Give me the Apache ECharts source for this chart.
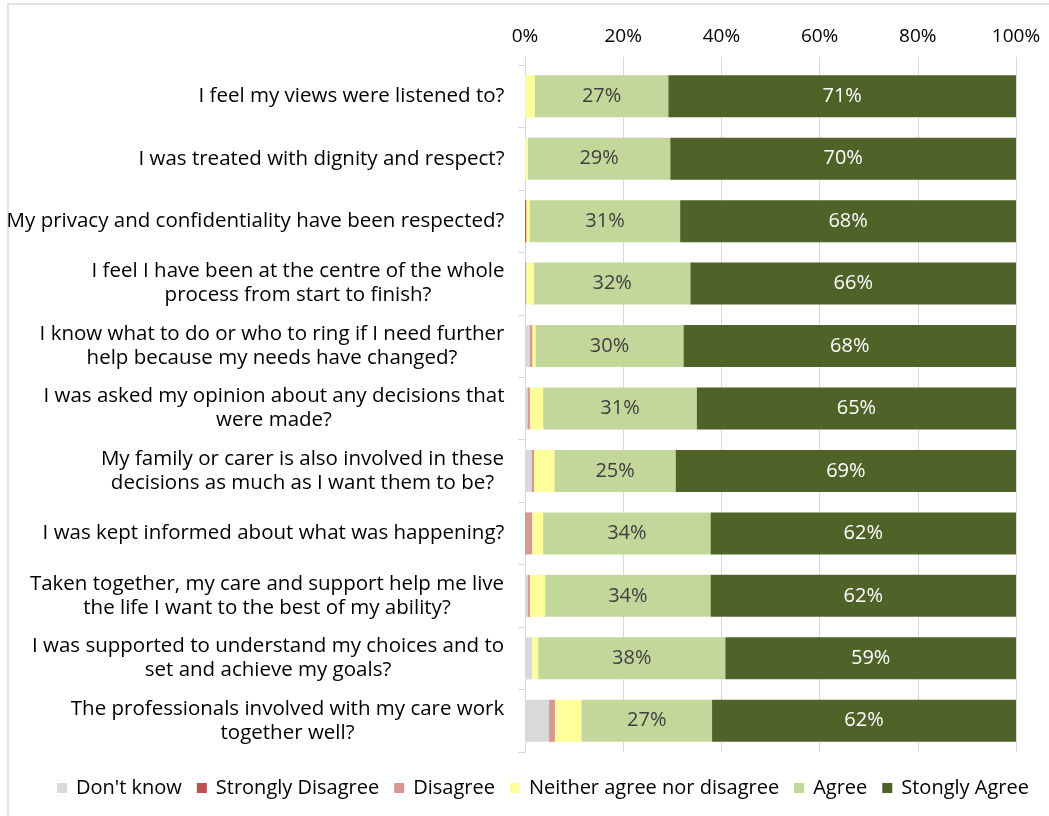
<!DOCTYPE html>
<html>
<head>
<meta charset="utf-8">
<script src="https://cdn.jsdelivr.net/npm/echarts@6/dist/echarts.min.js"></script>
<style>
html,body{margin:0;padding:0;background:#fff;}
#chart{width:1049px;height:816px;}
</style>
</head>
<body>
<div id="chart"></div>
<script>
const categories = [
  "I feel my views were listened to?",
  "I was treated with dignity and respect?",
  "My privacy and confidentiality have been respected?",
  "I feel I have been at the centre of the whole\nprocess from start to finish?",
  "I know what to do or who to ring if I need further\nhelp because my needs have changed?",
  "I was asked my opinion about any decisions that\nwere made?",
  "My family or carer is also involved in these\ndecisions as much as I want them to be?",
  "I was kept informed about what was happening?",
  "Taken together, my care and support help me live\nthe life I want to the best of my ability?",
  "I was supported to understand my choices and to\nset and achieve my goals?",
  "The professionals involved with my care work\ntogether well?"
];
const seriesNames = ["Don't know", "Strongly Disagree", "Disagree", "Neither agree nor disagree", "Agree", "Stongly Agree"];
const dontKnow         = [0,   0,   0,   0,   1.0, 0.55, 1.35, 0,   0.55, 1.5, 4.9];
const stronglyDisagree = [0,   0,   0.3, 0,   0,   0,    0,    0,   0,    0,   0];
const disagree         = [0,   0,   0,   0.3, 0.55,0.45, 0.5,  1.5, 0.45, 0,   1.2];
const neither          = [2.0, 0.6, 0.7, 1.5, 0.6, 2.7,  4.15, 2.2, 3.1,  1.2, 5.4];
const agree            = [27.2,29.0,30.6,31.9,30.15,31.3,24.7, 34.1,33.7, 38.1,26.6];
const stronglyAgree    = [70.8,70.4,68.4,66.3,67.7,65.0, 69.3, 62.2,62.2, 59.2,61.9];
const xTicks = [0, 20, 40, 60, 80, 100];

const colors = ['#D9D9D9', '#C0504D', '#DA9694', '#FFFF99', '#C4D79B', '#4F6228'];
const values = [dontKnow, stronglyDisagree, disagree, neither, agree, stronglyAgree];
const FONT = 'Open Sans';
const CAT_SIZE = 20.5;

// measure widths so that wrapped lines can be centred within a right-aligned block
const cvs = document.createElement('canvas').getContext('2d');
cvs.font = CAT_SIZE + 'px "' + FONT + '"';
const rich = {};
categories.forEach((c, i) => {
  const w = Math.max(...c.split('\n').map(l => cvs.measureText(l).width));
  rich['c' + i] = {width: Math.ceil(w) + 1, align: 'center', fontSize: CAT_SIZE, fontFamily: FONT, color: '#000', lineHeight: 24};
});

const chart = echarts.init(document.getElementById('chart'), null, {renderer: 'canvas'});
const series = seriesNames.map((name, i) => ({
  name: name,
  type: 'bar',
  stack: 'total',
  barWidth: 42,
  data: values[i],
  itemStyle: {color: colors[i]},
  label: {
    show: i >= 4,
    position: 'inside',
    formatter: p => Math.round(p.value) + '%',
    color: i === 5 ? '#ffffff' : '#404040',
    fontSize: 20,
    fontFamily: FONT
  },
  emphasis: {disabled: true}
}));

chart.setOption({
  animation: false,
  textStyle: {fontFamily: FONT},
  graphic: [{
    type: 'rect',
    shape: {x: 8, y: 4, width: 1060, height: 830},
    style: {fill: 'none', stroke: '#D9D9D9', lineWidth: 1.5},
    silent: true
  }],
  grid: {left: 525, right: 33, top: 65, bottom: 64, containLabel: false, outerBoundsMode: 'none'},
  legend: {
    left: 52,
    top: 773,
    itemWidth: 10,
    itemHeight: 10,
    itemGap: 15,
    icon: 'rect',
    textStyle: {fontSize: 20, color: '#000', fontFamily: FONT, padding: [0,0,0,4]},
    data: seriesNames
  },
  xAxis: {
    type: 'value',
    position: 'top',
    min: 0,
    max: 100,
    interval: 20,
    axisLine: {show: false},
    axisTick: {show: true, length: 8, lineStyle: {color: '#D9D9D9'}},
    splitLine: {show: true, lineStyle: {color: '#D9D9D9', width: 1}},
    axisLabel: {
      fontSize: 19, color: '#000', fontFamily: FONT, margin: 19,
      formatter: v => xTicks.includes(v) ? v + '%' : ''
    }
  },
  yAxis: {
    type: 'category',
    inverse: true,
    data: categories,
    axisLine: {show: true, lineStyle: {color: '#D9D9D9', width: 1}},
    axisTick: {show: true, length: 7, lineStyle: {color: '#D9D9D9'}},
    axisLabel: {
      fontSize: CAT_SIZE, color: '#000', fontFamily: FONT, margin: 20,
      align: 'right', lineHeight: 24,
      formatter: (value, index) => value.split('\n').map(l => '{c' + index + '|' + l + '}').join('\n'),
      rich: rich
    }
  },
  series: series
});
</script>
</body>
</html>
